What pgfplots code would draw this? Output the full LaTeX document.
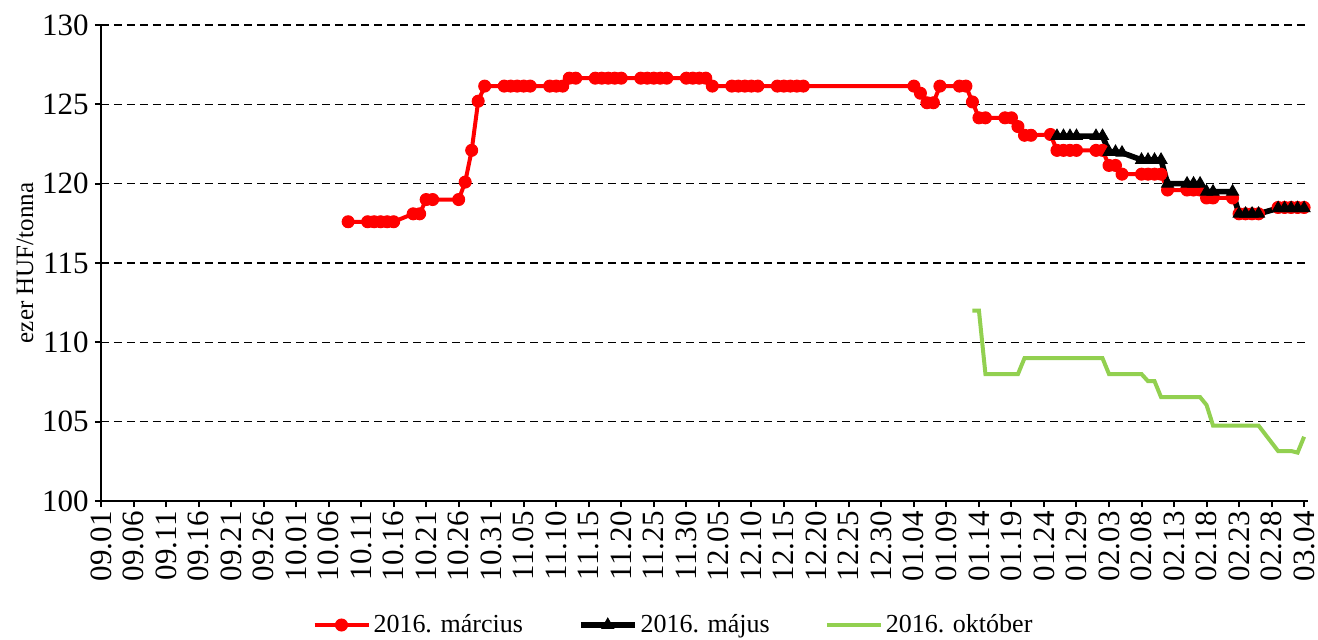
\documentclass[border=0pt]{standalone}
\usepackage{fontspec}
\setmainfont{Liberation Serif}
\usepackage{pgfplots}
\pgfplotsset{compat=1.18}
\definecolor{myred}{RGB}{255,0,0}
\definecolor{mygreen}{RGB}{146,208,80}

\begin{document}
\begin{tikzpicture}
\begin{axis}[
  scale only axis,
  width=603.5pt, height=238pt,
  xmin=0, xmax=185.6, ymin=100, ymax=130,
  clip=false,
  xtick={0,5,...,185},
  xticklabels={09.01,09.06,09.11,09.16,09.21,09.26,10.01,10.06,10.11,10.16,10.21,10.26,10.31,11.05,11.10,11.15,11.20,11.25,11.30,12.05,12.10,12.15,12.20,12.25,12.30,01.04,01.09,01.14,01.19,01.24,01.29,02.03,02.08,02.13,02.18,02.23,02.28,03.04},
  ytick={100,105,...,130},
  /pgf/number format/assume math mode=true,
  axis x line*=bottom, axis y line*=left,
  axis line style={line width=1pt, -},
  tick align=outside,
  major tick length=3pt,
  tick style={line width=1pt, black},
  ymajorgrids,
  grid style={black, line width=0.7pt, dash pattern=on 4pt off 2.5pt},
  ticklabel style={font=\fontsize{15.5}{17}\selectfont},
  xticklabel style={rotate=90, anchor=east, inner xsep=2pt},
  yticklabel style={inner xsep=3pt},
  ylabel={ezer HUF/tonna},
  ylabel style={at={(axis description cs:0,0.5)}, anchor=center, yshift=38pt, font=\fontsize{12.5}{15}\selectfont},
  legend columns=3,
  legend image code/.code={\draw[mark repeat=2,mark phase=2] plot coordinates {(0pt,0pt) (13.5pt,0pt) (27pt,0pt)};},
  legend style={at={(axis description cs:0.4747,0)}, yshift=-62pt, anchor=center, draw=none, fill=none,
    font=\fontsize{13}{16}\selectfont,
    /tikz/every even column/.append style={column sep=26pt},
    nodes={inner xsep=1.5pt, inner ysep=0pt}},
]
\addplot[myred, line width=2pt, mark=*, mark size=3pt, mark options={fill=myred, draw=myred, line width=0.5pt}] coordinates {
(38,117.6) (41,117.6) (42,117.6) (43,117.6) (44,117.6) (45,117.6)
(48,118.1) (49,118.1) (50,119.0) (51,119.0) (55,119.0) (56,120.1) (57,122.1) (58,125.2) (59,126.15)
(62,126.15) (63,126.15) (64,126.15) (65,126.15) (66,126.15)
(69,126.15) (70,126.15) (71,126.15) (72,126.65) (73,126.65)
(76,126.65) (77,126.65) (78,126.65) (79,126.65) (80,126.65)
(83,126.65) (84,126.65) (85,126.65) (86,126.65) (87,126.65)
(90,126.65) (91,126.65) (92,126.65) (93,126.65) (94,126.15)
(97,126.15) (98,126.15) (99,126.15) (100,126.15) (101,126.15)
(104,126.15) (105,126.15) (106,126.15) (107,126.15) (108,126.15)
(125,126.15) (126,125.7) (127,125.1) (128,125.1) (129,126.15)
(132,126.15) (133,126.15) (134,125.15) (135,124.15) (136,124.15)
(139,124.15) (140,124.15) (141,123.6) (142,123.05) (143,123.05)
(146,123.1) (147,122.1) (148,122.1) (149,122.1) (150,122.1)
(153,122.1) (154,122.1) (155,121.15) (156,121.15) (157,120.6)
(160,120.6) (161,120.6) (162,120.6) (163,120.6) (164,119.6)
(167,119.6) (168,119.6) (169,119.6) (170,119.1) (171,119.1)
(174,119.1) (175,118.1) (176,118.1) (177,118.1) (178,118.1)
(181,118.5) (182,118.5) (183,118.5) (184,118.5) (185,118.5)
};
\addlegendentry{2016. március}
\addplot[black, line width=2.8pt, mark=triangle*, mark size=3.4pt, mark options={fill=black, line width=0.5pt}] coordinates {
(147,123.0) (148,123.0) (149,123.0) (150,123.0)
(153,123.0) (154,123.0) (155,122.0) (156,122.0) (157,121.95)
(160,121.5) (161,121.5) (162,121.5) (163,121.5) (164,120.0)
(167,120.0) (168,120.0) (169,120.0) (170,119.5) (171,119.5)
(174,119.5) (175,118.1) (176,118.1) (177,118.1) (178,118.1)
(181,118.45) (182,118.45) (183,118.45) (184,118.45) (185,118.45)
};
\addlegendentry{2016. május}
\addplot[mygreen, line width=2pt, no marks] coordinates {
(134,112.0) (135,112.0) (136,108.0)
(139,108.0) (140,108.0) (141,108.0) (142,109.0) (143,109.0)
(146,109.0) (147,109.0) (148,109.0) (149,109.0) (150,109.0)
(153,109.0) (154,109.0) (155,108.0) (156,108.0) (157,108.0)
(160,108.0) (161,107.55) (162,107.55) (163,106.55) (164,106.55)
(167,106.55) (168,106.55) (169,106.55) (170,106.05) (171,104.75)
(174,104.75) (175,104.75) (176,104.75) (177,104.75) (178,104.75)
(181,103.15) (182,103.15) (183,103.15) (184,103.05) (185,104.05)
};
\addlegendentry{2016. október}
\end{axis}
\pgfresetboundingbox
\path[use as bounding box] (-50.5pt,-69pt) rectangle (608.5pt,250.5pt);
\end{tikzpicture}
\end{document}
